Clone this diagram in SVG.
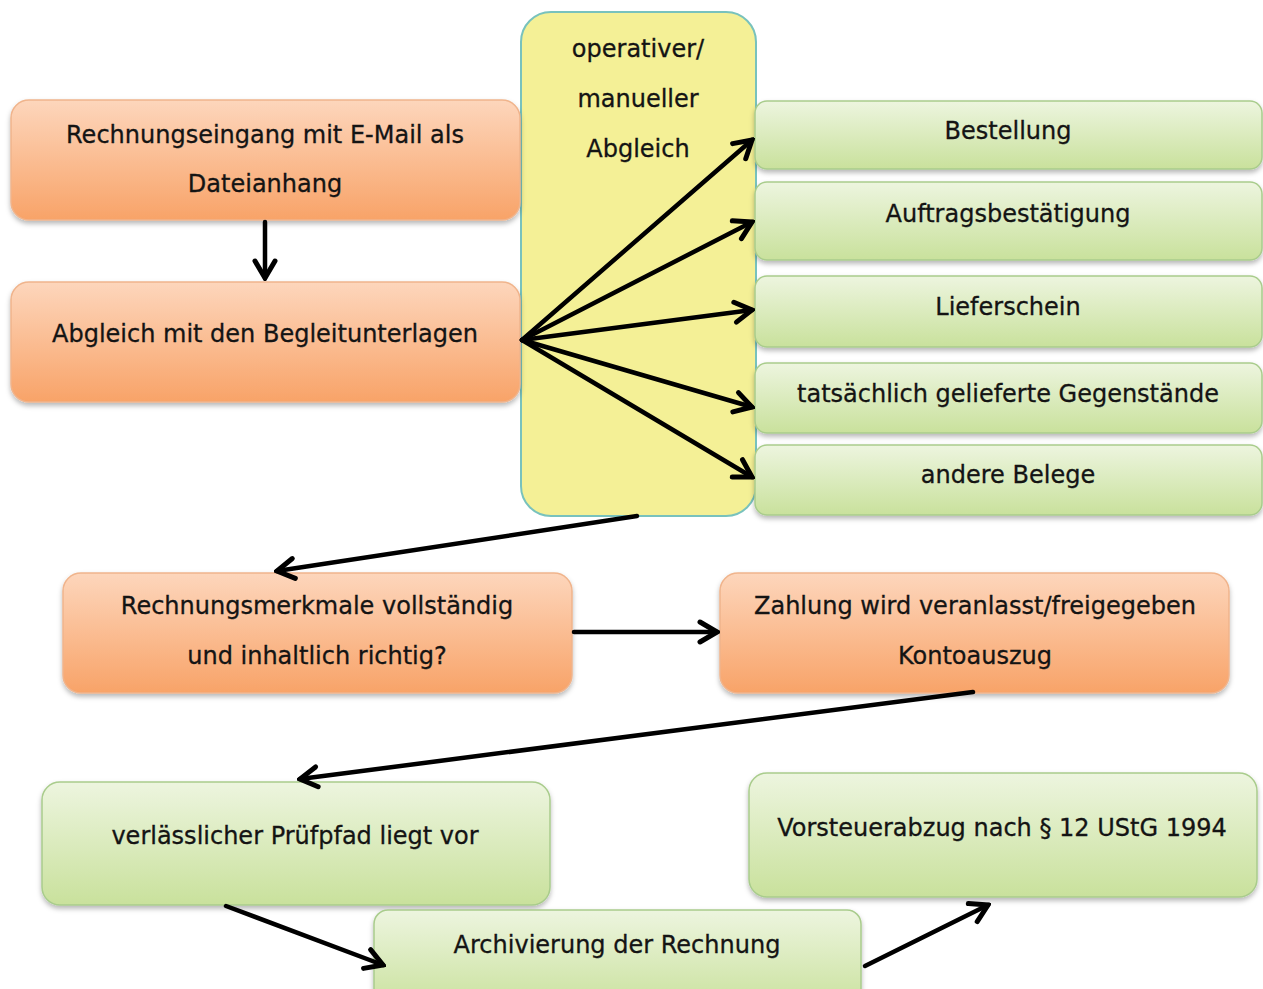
<svg xmlns="http://www.w3.org/2000/svg" width="1263" height="989" viewBox="0 0 1263 989">
<defs>
<linearGradient id="gOr" x1="0" y1="0" x2="0" y2="1">
<stop offset="0" stop-color="#fdd6bc"/><stop offset="1" stop-color="#f8a368"/>
</linearGradient>
<linearGradient id="gGr" x1="0" y1="0" x2="0" y2="1">
<stop offset="0" stop-color="#edf5df"/><stop offset="1" stop-color="#c9e19c"/>
</linearGradient>
<filter id="sh" x="-5%" y="-10%" width="110%" height="130%">
<feDropShadow dx="0" dy="3" stdDeviation="2.5" flood-color="#000" flood-opacity="0.28"/>
</filter>
<marker id="ah" viewBox="0 0 26 26" refX="23" refY="13" markerWidth="26" markerHeight="26" markerUnits="userSpaceOnUse" orient="auto">
<path d="M6,3 L23,13 L6,23" fill="none" stroke="#000" stroke-width="5" stroke-linejoin="miter" stroke-linecap="round"/>
</marker>
</defs>
<style>
.or{fill:url(#gOr);stroke:#f0b48c;stroke-width:1.5;filter:url(#sh)}
.gr{fill:url(#gGr);stroke:#a9cc8c;stroke-width:1.5;filter:url(#sh)}
.ye{fill:#f4f096;stroke:#78c2bd;stroke-width:2}
text{font-family:"DejaVu Sans",Verdana,sans-serif;font-size:24px;fill:#141414;text-anchor:middle;stroke:#141414;stroke-width:0.3}
.c line{stroke:#000;stroke-width:4.5;stroke-linecap:round;marker-end:url(#ah)}
</style>
<rect width="1263" height="989" fill="#fff"/>

<g id="n-yellow"><rect class="ye" x="521" y="12" width="235" height="504" rx="30"/>
<text x="638" y="57">operativer/</text><text x="638" y="107">manueller</text><text x="638" y="157">Abgleich</text></g>

<g id="n-eingang"><rect class="or" x="11" y="100" width="509" height="120" rx="18"/>
<text x="265" y="143">Rechnungseingang mit E-Mail als</text><text x="265" y="192">Dateianhang</text></g>
<g id="n-abgleich"><rect class="or" x="11" y="282" width="509" height="120" rx="18"/>
<text x="265" y="342">Abgleich mit den Begleitunterlagen</text></g>

<g id="n-bestellung"><rect class="gr" x="755" y="101" width="507" height="68" rx="12"/><text x="1008" y="139">Bestellung</text></g>
<g id="n-auftrag"><rect class="gr" x="755" y="182" width="507" height="78" rx="12"/><text x="1008" y="222">Auftragsbestätigung</text></g>
<g id="n-liefer"><rect class="gr" x="755" y="276" width="507" height="71" rx="12"/><text x="1008" y="315">Lieferschein</text></g>
<g id="n-gegen"><rect class="gr" x="755" y="363" width="507" height="70" rx="12"/><text x="1008" y="402">tatsächlich gelieferte Gegenstände</text></g>
<g id="n-andere"><rect class="gr" x="755" y="445" width="507" height="70" rx="12"/><text x="1008" y="483">andere Belege</text></g>

<g id="n-merkmale"><rect class="or" x="63" y="573" width="509" height="120" rx="18"/>
<text x="317" y="614">Rechnungsmerkmale vollständig</text><text x="317" y="664">und inhaltlich richtig?</text></g>
<g id="n-zahlung"><rect class="or" x="720" y="573" width="509" height="120" rx="18"/>
<text x="975" y="614">Zahlung wird veranlasst/freigegeben</text><text x="975" y="664">Kontoauszug</text></g>

<g id="n-pruefpfad"><rect class="gr" x="42" y="782" width="508" height="123" rx="18"/><text x="295" y="844">verlässlicher Prüfpfad liegt vor</text></g>
<g id="n-vorsteuer"><rect class="gr" x="749" y="773" width="508" height="124" rx="18"/><text x="1002" y="836">Vorsteuerabzug nach § 12 UStG 1994</text></g>
<g id="n-archiv"><rect class="gr" x="374" y="910" width="487" height="100" rx="14"/><text x="617" y="953">Archivierung der Rechnung</text></g>

<g id="connectors" class="c">
<line x1="265" y1="222" x2="265" y2="278"/>
<line x1="522" y1="340" x2="752" y2="140"/>
<line x1="522" y1="340" x2="752" y2="222"/>
<line x1="522" y1="340" x2="752" y2="310"/>
<line x1="522" y1="340" x2="752" y2="407"/>
<line x1="522" y1="340" x2="752" y2="477"/>
<line x1="637" y1="516" x2="277" y2="571"/>
<line x1="574" y1="632" x2="717" y2="632"/>
<line x1="973" y1="692" x2="300" y2="779"/>
<line x1="226" y1="906" x2="383" y2="965"/>
<line x1="865" y1="966" x2="988" y2="905"/>
</g>
</svg>
